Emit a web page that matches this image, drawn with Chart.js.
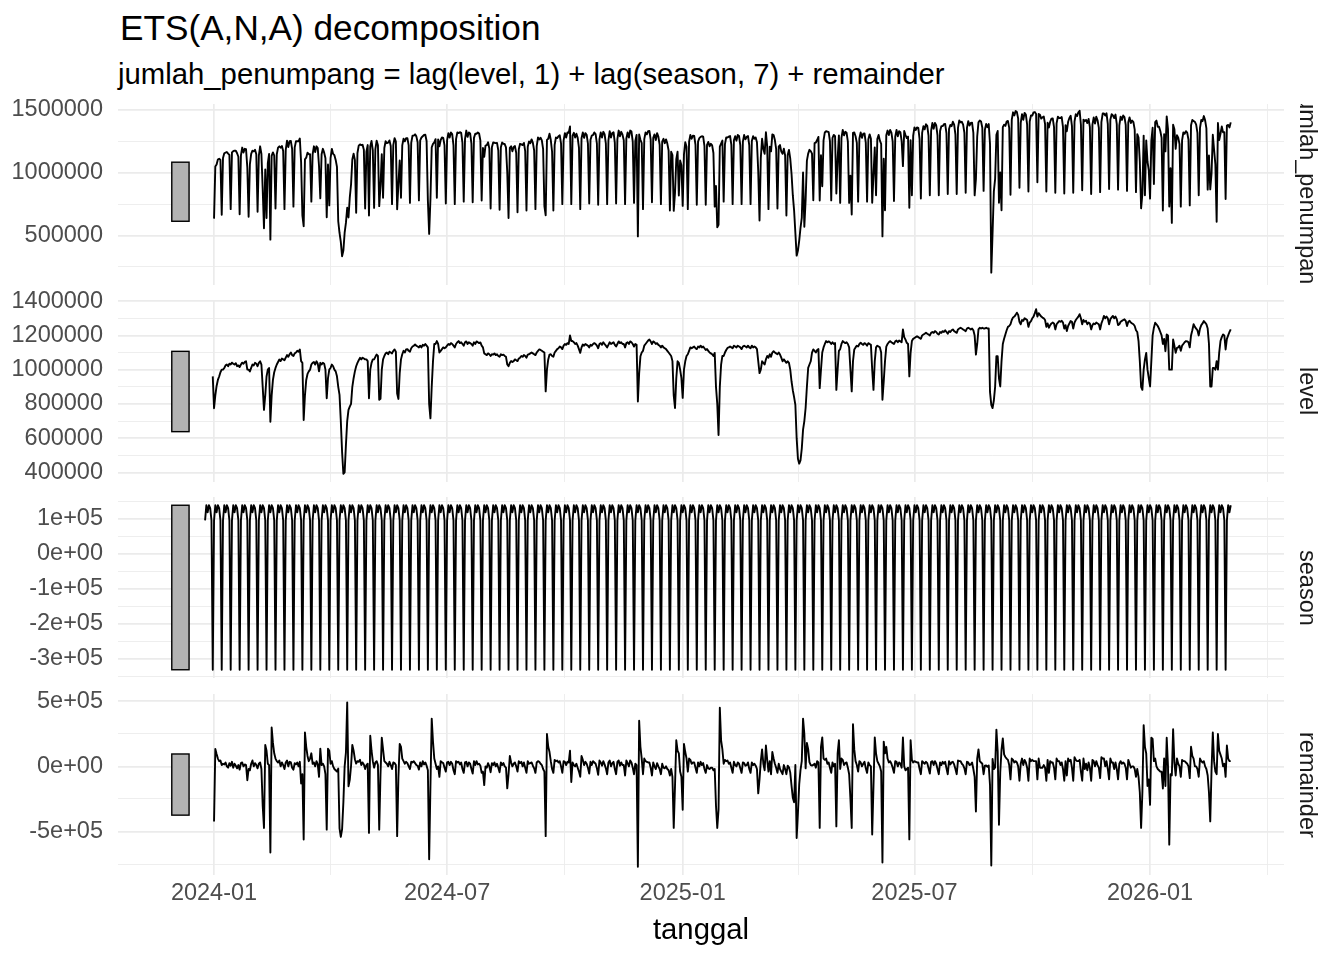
<!DOCTYPE html>
<html lang="id">
<head>
<meta charset="UTF-8">
<title>ETS(A,N,A) decomposition</title>
<script src="https://cdn.jsdelivr.net/npm/chart.js"></script>
<style>
  body { margin: 0; background: #fff; width: 1344px; height: 960px; position: relative; overflow: hidden;
         font-family: "Liberation Sans", Arial, Helvetica, sans-serif; }
  canvas { position: absolute; left: 0; }
  .judul { position: absolute; left: 120px; top: 10px; font-size: 35.2px; line-height: 1; color: #000; white-space: nowrap; }
  .subjudul { position: absolute; left: 118px; top: 58.7px; font-size: 29.3px; line-height: 1; color: #000; white-space: nowrap; }
  .xjudul { position: absolute; left: 551px; width: 300px; top: 914px; text-align: center; font-size: 29.3px; line-height: 1; color: #000; }
  .strip { position: absolute; left: 1290px; width: 34px; height: 181px; display: flex; align-items: center;
           justify-content: center; overflow: hidden; }
  .strip span { writing-mode: vertical-rl; white-space: nowrap; font-size: 23.5px; line-height: 1; color: #1A1A1A; }
</style>
</head>
<body>

<div class="judul">ETS(A,N,A) decomposition</div>
<div class="subjudul">jumlah_penumpang = lag(level, 1) + lag(season, 7) + remainder</div>

<canvas id="p1"></canvas>
<canvas id="p2"></canvas>
<canvas id="p3"></canvas>
<canvas id="p4"></canvas>

<div class="strip" style="top:104px"><span>jumlah_penumpang</span></div>
<div class="strip" style="top:300.5px"><span>level</span></div>
<div class="strip" style="top:497px"><span>season</span></div>
<div class="strip" style="top:694px"><span>remainder</span></div>

<div class="xjudul">tanggal</div>

<script>
  // x = days since 2024-01-01 (a Monday); values in thousands of passengers

  // level, one line per week (Mon..Sun), first value is the initial state on 2023-12-31
  var level = [
    961,
    775, 850, 905, 940, 960, 985, 1000,
    1000, 1010, 1025, 1030, 1020, 1035, 1030,
    1041, 1035, 1030, 1038, 1020, 1025, 1015,
    1030, 1041, 1035, 1045, 1049, 1000, 1000,
    990, 1010, 1030, 1025, 1040, 1035, 1020,
    1040, 1049, 1030, 900, 765, 850, 960,
    1000, 1010, 696, 850, 940, 985, 1010,
    1030, 1045, 1059, 1050, 1065, 1060, 1055,
    1070, 1085, 1075, 1090, 1100, 1085, 1080,
    1095, 1100, 1110, 1105, 1118, 1050, 1040,
    706, 850, 940, 975, 990, 1000, 1030,
    1040, 1045, 1030, 1049, 1035, 990, 1040,
    1030, 1040, 1035, 1000, 833, 950, 1000,
    1010, 1030, 1020, 1000, 990, 961, 900,
    853, 700, 520, 392, 400, 560, 700,
    765, 784, 800, 900, 950, 990, 1020,
    1040, 1055, 1069, 1060, 1070, 1065, 1060,
    1060, 1050, 833, 1000, 1040, 1060, 1060,
    1075, 1088, 1080, 824, 830, 1000, 1060,
    1080, 1095, 1100, 1090, 1105, 1100, 1095,
    1110, 1118, 1105, 860, 829, 980, 1060,
    1090, 1110, 1100, 1118, 1120, 1110, 1105,
    1125, 1135, 1140, 1147, 1140, 1135, 1130,
    1140, 1130, 1145, 1140, 1150, 1140, 1130,
    800, 716, 900, 1050, 1150, 1150, 1167,
    1150, 1100, 1110, 1120, 1130, 1125, 1130,
    1140, 1150, 1145, 1155, 1150, 1140, 1130,
    1150, 1160, 1167, 1155, 1160, 1150, 1140,
    1160, 1165, 1150, 1160, 1155, 1150, 1140,
    1160, 1150, 1165, 1160, 1155, 1159, 1140,
    1130, 1095, 1090, 1085, 1095, 1090, 1080,
    1090, 1088, 1095, 1085, 1090, 1080, 1075,
    1090, 1085, 1088, 1080, 1075, 1030, 1020,
    1040, 1050, 1045, 1050, 1060, 1055, 1050,
    1065, 1070, 1080, 1075, 1085, 1080, 1070,
    1088, 1090, 1095, 1100, 1095, 1090, 1085,
    1100, 1110, 1118, 1115, 1110, 1105, 1100,
    873, 1000, 1060, 1088, 1090, 1080, 1075,
    1100, 1110, 1120, 1125, 1135, 1130, 1120,
    1140, 1150, 1145, 1155, 1150, 1200, 1167,
    1167, 1160, 1150, 1155, 1140, 1120, 1098,
    1130, 1147, 1140, 1150, 1145, 1140, 1130,
    1145, 1140, 1150, 1155, 1150, 1140, 1125,
    1150, 1155, 1145, 1160, 1150, 1140, 1130,
    1145, 1160, 1150, 1155, 1160, 1145, 1135,
    1150, 1165, 1155, 1160, 1150, 1150, 1130,
    1155, 1160, 1150, 1165, 1160, 1150, 1135,
    1150, 1145, 814, 980, 1078, 1100, 1110,
    1140, 1150, 1160, 1170, 1176, 1165, 1150,
    1165, 1160, 1150, 1155, 1145, 1140, 1130,
    1140, 1130, 1125, 1120, 1110, 1100, 1090,
    1080, 1050, 850, 776, 950, 1049, 1040,
    1000, 950, 835, 1000, 1049, 1080, 1090,
    1110, 1130, 1125, 1130, 1135, 1125, 1120,
    1135, 1130, 1140, 1130, 1135, 1125, 1115,
    1120, 1110, 1100, 1095, 1090, 1080, 1098,
    900, 800, 618, 900, 1029, 1080, 1080,
    1100, 1115, 1127, 1130, 1135, 1130, 1125,
    1140, 1135, 1130, 1140, 1135, 1130, 1120,
    1135, 1140, 1135, 1130, 1140, 1130, 1125,
    1140, 1130, 1135, 1130, 1120, 1050, 980,
    1000, 1049, 1040, 1030, 1060, 1080, 1070,
    1090, 1075, 1100, 1108, 1100, 1095, 1090,
    1100, 1088, 1070, 1049, 1060, 1050, 1040,
    1049, 1040, 1000, 931, 880, 840, 794,
    600, 480, 451, 470, 539, 650, 700,
    776, 900, 1010, 1030, 1049, 1100, 1118,
    1110, 1100, 1115, 1120, 892, 1000, 1100,
    1130, 1150, 1167, 1160, 1165, 1160, 1150,
    1160, 1150, 1155, 882, 1000, 1110, 1120,
    1150, 1167, 1160, 1155, 1160, 1150, 1130,
    1000, 873, 1050, 1118, 1130, 1140, 1135,
    1150, 1157, 1150, 1145, 1155, 1150, 1140,
    1155, 1150, 1145, 1000, 882, 1050, 1130,
    1140, 1135, 1130, 1100, 824, 931, 1050,
    1135, 1150, 1160, 1167, 1160, 1155, 1150,
    1165, 1170, 1160, 1170, 1165, 1160, 1235,
    1190, 1175, 1157, 1150, 961, 1100, 1167,
    1180, 1185, 1190, 1195, 1190, 1185, 1180,
    1200, 1205, 1210, 1216, 1210, 1205, 1200,
    1215, 1220, 1215, 1225, 1220, 1210, 1205,
    1220, 1215, 1225, 1220, 1230, 1220, 1210,
    1225, 1220, 1230, 1235, 1225, 1220, 1215,
    1235, 1240, 1245, 1240, 1235, 1230, 1225,
    1240, 1245, 1240, 1235, 1240, 1230, 1200,
    1088, 1150, 1235, 1245, 1240, 1245, 1240,
    1240, 1245, 1240, 1240, 870, 794, 776,
    820, 900, 1078, 1078, 950, 902, 1050,
    1150, 1180, 1206, 1230, 1250, 1255, 1265,
    1290, 1305, 1310, 1320, 1333, 1320, 1280,
    1265, 1290, 1285, 1300, 1295, 1290, 1250,
    1275, 1284, 1300, 1310, 1330, 1353, 1310,
    1330, 1320, 1310, 1304, 1300, 1290, 1250,
    1270, 1245, 1260, 1270, 1275, 1270, 1235,
    1265, 1275, 1284, 1280, 1285, 1275, 1240,
    1260, 1225, 1255, 1270, 1284, 1280, 1240,
    1275, 1290, 1300, 1310, 1324, 1300, 1265,
    1290, 1280, 1285, 1265, 1275, 1270, 1235,
    1260, 1270, 1265, 1275, 1270, 1265, 1235,
    1270, 1290, 1314, 1300, 1310, 1300, 1265,
    1295, 1305, 1314, 1300, 1310, 1295, 1260,
    1265, 1280, 1285, 1290, 1294, 1285, 1255,
    1280, 1285, 1275, 1270, 1265, 1255, 1230,
    1220, 1167, 1050, 900, 882, 1000, 1060,
    1098, 1000, 950, 902, 1050, 1200, 1245,
    1274, 1265, 1255, 1240, 1220, 1200, 1150,
    1180, 1108, 1206, 1200, 1000, 1000, 1000,
    1176, 1140, 1098, 1127, 1130, 1140, 1110,
    1140, 1150, 1160, 1167, 1165, 1160, 1130,
    1200, 1230, 1265, 1250, 1240, 1230, 1200,
    1240, 1260, 1270, 1284, 1275, 1265, 1240,
    1150, 902, 902, 1010, 1010, 1000, 1050,
    1000, 1100, 1167, 1190, 1206, 1200, 1118,
    1180, 1200, 1220, 1235
  ];

  // weekly seasonal states Mon..Sun, repeated from 2023-12-25
  var seasonWeek = [95, 138, 118, 138, 130, 95, -331];

  // remainder from 2024-01-01, one line per week (Mon..Sun)
  var remainder = [
    -422, 134, 95, 60, 40, 45, 10,
    20, 15, 30, 0, -10, 25, 5,
    35, -10, 20, 5, -15, 10, -25,
    25, 30, 0, 15, 10, -106, -20,
    -30, 20, 45, 0, 25, 10, -15,
    20, 30, -20, -300, -472, 164, 120,
    20, 10, -661, 298, 180, 100, 60,
    40, 30, 45, 0, 30, 10, -20,
    30, 45, 0, 35, 30, -10, -25,
    25, 15, 30, 0, 35, -131, -60,
    -561, 260, 150, 80, 40, 60, 100,
    20, 30, 0, 40, 15, -80, 136,
    10, 20, 0, -60, -485, 136, 120,
    20, 40, 0, -20, -30, -40, -17,
    -475, -541, -483, -278, 0, 105, 491,
    -152, -103, 3, 165, 120, 55, 21,
    40, 35, 50, 10, 30, 15, -20,
    10, 20, -510, 235, 120, 40, -10,
    30, 40, 10, -485, -60, 220, 130,
    40, 30, 20, 0, 35, 10, -20,
    30, 25, 10, -535, -80, 172, 150,
    60, 40, 20, 35, 25, 0, -20,
    35, 30, 40, 25, 10, 5, -25,
    30, 0, 40, 15, 30, 5, -30,
    -712, -150, 366, 190, 60, 20, -20,
    0, -80, 40, 30, 25, -10, -40,
    30, 35, 10, 35, 20, -30, -60,
    40, 30, 35, 15, 30, -20, -50,
    30, 35, 0, 30, 20, -20, -55,
    40, 10, 40, 15, 20, 5, -50,
    -40, -144, 0, -10, 25, 0, -45,
    25, 10, 30, 0, 20, -10, -45,
    30, 10, 25, 0, -10, -169, -60,
    80, 30, 0, 20, 30, 0, -40,
    40, 25, 35, 0, 30, -10, -50,
    40, 20, 25, 30, 5, -15, -50,
    30, 40, 35, 20, 10, -20, -40,
    -535, 248, 150, 110, 40, -20, -50,
    50, 40, 45, 30, 40, 0, -50,
    40, 35, 10, 35, 30, 120, -120,
    30, 10, 0, 20, -10, -40, -80,
    80, 50, 10, 35, 20, -10, -55,
    35, 10, 40, 30, 20, -15, -65,
    45, 30, 5, 40, 15, -15, -60,
    30, 45, 0, 25, 35, -20, -60,
    35, 45, 5, 30, 10, 10, -70,
    45, 25, 0, 45, 30, -10, -60,
    20, 10, -770, 350, 150, 60, -60,
    60, 40, 35, 30, 30, -10, -70,
    30, 0, -20, 25, 0, -20, -60,
    20, -10, -15, 0, -20, -30, -70,
    -20, -80, -472, -150, 200, 120, 100,
    -40, -80, -333, 172, 110, 60, -40,
    60, 50, 20, 30, 30, -10, -50,
    30, 0, 35, 10, 25, -20, -50,
    10, -15, -20, -10, -10, -30, -20,
    -300, -472, -333, 449, 200, 130, 20,
    50, 40, 45, 20, 30, -10, -50,
    35, 10, 0, 30, 20, -15, -50,
    30, 25, 5, 10, 30, -20, -50,
    30, 10, 20, 5, -20, -207, -100,
    40, 130, 20, -30, 160, 50, -40,
    40, -60, 110, 60, 20, -10, -50,
    20, -20, -40, -60, 10, -20, -60,
    5, -7, -48, -148, -241, -275, 11,
    -549, -358, -138, -29, 40, 366, 250,
    -15, 180, 132, 32, 10, 6, 11,
    20, -10, 40, 30, -472, 150, 222,
    60, 50, 60, 20, 30, -10, -50,
    30, 0, 20, -460, 100, 200, -20,
    60, 50, 10, 25, 30, -10, -60,
    -250, -472, 323, 130, 40, 10, -40,
    40, 30, 0, 20, 35, -15, -50,
    30, 10, 0, -523, -150, 222, 100,
    40, 20, 0, -40, -737, 190, 100,
    150, 60, 30, 40, 20, -10, -50,
    40, 35, 0, 30, 20, -10, 222,
    0, -30, -20, -10, -560, 200, 50,
    30, 40, 35, 30, 30, -20, -60,
    40, 30, 20, 35, 25, -15, -55,
    35, 40, 10, 40, 20, -20, -60,
    30, 10, 35, 20, 35, -15, -60,
    40, 15, 30, 35, 15, -20, -60,
    45, 40, 40, 20, 10, -15, -60,
    35, 30, 10, 15, 30, -20, -80,
    -346, 60, 130, 40, 30, 20, -60,
    5, 7, -3, 7, -144, -760, 57,
    -21, -8, 282, 114, -448, -45, 129,
    215, 92, 72, 60, 50, 10, -100,
    60, 50, 30, 40, 30, 0, -110,
    20, 60, 10, 50, 30, -10, -110,
    60, 40, 50, 40, 40, 40, -100,
    60, -10, -10, -10, 10, -10, -110,
    50, -50, 40, 30, 30, -10, -100,
    60, 40, 40, 10, 30, -20, -110,
    40, -70, 60, 40, 50, -10, -110,
    70, 50, 40, 40, 50, -40, -110,
    60, -20, 20, -30, 30, -10, -110,
    50, 40, 0, 40, 10, -10, -90,
    70, 60, 60, 0, 40, -20, -100,
    60, 30, 30, -20, 30, -20, -100,
    20, 40, 20, 30, 20, -10, -100,
    50, 20, -10, 0, 0, -20, -80,
    -20, -80, -200, -472, -200, 316, 150,
    100, -150, -100, -295, 220, 210, 40,
    60, 0, -20, -30, -40, -40, -170,
    60, -150, 220, 0, -600, -60, -69,
    285, 30, -70, 60, 20, 0, -80,
    50, 40, 40, 30, 20, 0, -90,
    150, 80, 60, 0, 0, -20, -80,
    60, 40, 30, 40, 0, -20, -70,
    -200, -422, -30, 260, 40, -40, -60,
    248, 120, 90, 60, 0, 20, -80,
    160, 60, 40, 40
  ];

  // x axis breaks
  var xMajor = [0, 182, 366, 547, 731];
  var xMajorLabels = ["2024-01", "2024-07", "2025-01", "2025-07", "2026-01"];
  var xMinor = [91, 274, 456.5, 639, 823];
  var xMin = -75, xMax = 835.6;

  // y axis breaks per panel
  var y1Major = [500000, 1000000, 1500000];
  var y1Labels = ["500000", "1000000", "1500000"];
  var y1Minor = [250000, 750000, 1250000];

  var y2Major = [400000, 600000, 800000, 1000000, 1200000, 1400000];
  var y2Labels = ["400000", "600000", "800000", "1000000", "1200000", "1400000"];
  var y2Minor = [500000, 700000, 900000, 1100000, 1300000];

  var y3Major = [-300000, -200000, -100000, 0, 100000];
  var y3Labels = ["-3e+05", "-2e+05", "-1e+05", "0e+00", "1e+05"];
  var y3Minor = [-350000, -250000, -150000, -50000, 50000, 150000];

  var y4Major = [-500000, 0, 500000];
  var y4Labels = ["-5e+05", "0e+00", "5e+05"];
  var y4Minor = [-750000, -250000, 250000];

  // position of the grey scale bars on the time axis (days)
  var barDays = [-33, -19.5];

  // build the four series
  var levelPts = [], seasonPts = [], remPts = [], obsPts = [];
  for (var i = 0; i < level.length; i++) {
    levelPts.push({ x: i - 1, y: level[i] * 1000 });
  }
  for (var d = -7; d < remainder.length; d++) {
    seasonPts.push({ x: d, y: seasonWeek[(d + 7) % 7] * 1000 });
  }
  for (var d = 0; d < remainder.length; d++) {
    remPts.push({ x: d, y: remainder[d] * 1000 });
    // jumlah_penumpang = lag(level, 1) + lag(season, 7) + remainder
    obsPts.push({ x: d, y: (level[d] + seasonWeek[d % 7] + remainder[d]) * 1000 });
  }

  function rangeOf(pts) {
    var lo = Infinity, hi = -Infinity;
    for (var i = 0; i < pts.length; i++) {
      if (pts[i].y < lo) lo = pts[i].y;
      if (pts[i].y > hi) hi = pts[i].y;
    }
    return [lo, hi];
  }
  var seasonRange = rangeOf(seasonPts);
  var halfBar = (seasonRange[1] - seasonRange[0]) / 2;

  var rangeBarPlugin = {
    id: "rangeBar",
    beforeDatasetsDraw: function (chart, args, opts) {
      var xs = chart.scales.x, ys = chart.scales.y, ctx = chart.ctx;
      var x0 = xs.getPixelForValue(barDays[0]);
      var x1 = xs.getPixelForValue(barDays[1]);
      var y0 = ys.getPixelForValue(opts.mid + halfBar);
      var y1 = ys.getPixelForValue(opts.mid - halfBar);
      ctx.save();
      ctx.fillStyle = "#B3B3B3";
      ctx.strokeStyle = "#000";
      ctx.lineWidth = 1.4;
      ctx.fillRect(x0, y0, x1 - x0, y1 - y0);
      ctx.strokeRect(x0, y0, x1 - x0, y1 - y0);
      ctx.restore();
    }
  };

  Chart.defaults.font.family = '"Liberation Sans", Arial, Helvetica, sans-serif';

  function noPadding(s) {
    s.paddingTop = 0;
    s.paddingBottom = 0;
    s.paddingLeft = 0;
    s.paddingRight = 0;
  }

  function makePanel(id, top, pts, yMin, yMax, yMajor, yLabels, yMinor, showX) {
    var canvas = document.getElementById(id);
    var panelH = 181;
    canvas.width = 1344;
    canvas.height = showX ? panelH + 16 + 40 + 4 : panelH + 32;
    canvas.style.top = (top - 16) + "px";
    var r = rangeOf(pts);

    return new Chart(canvas, {
      type: "line",
      data: {
        datasets: [{
          data: pts,
          borderColor: "#000",
          borderWidth: 1.9,
          borderJoinStyle: "round",
          pointRadius: 0,
          tension: 0,
          fill: false
        }]
      },
      options: {
        responsive: false,
        animation: false,
        devicePixelRatio: 1,
        events: [],
        layout: { padding: { top: 16, bottom: showX ? 4 : 16, left: 0, right: 60 } },
        plugins: {
          legend: { display: false },
          tooltip: { enabled: false },
          rangeBar: { mid: (r[0] + r[1]) / 2 }
        },
        scales: {
          x: {
            type: "linear",
            min: xMin,
            max: xMax,
            border: { display: false },
            grid: {
              color: "#EBEBEB",
              drawTicks: false,
              lineWidth: function (c) { return xMajor.indexOf(c.tick.value) >= 0 ? 1.7 : 0.85; }
            },
            ticks: {
              display: showX,
              autoSkip: false,
              maxRotation: 0,
              padding: 4,
              color: "#4D4D4D",
              font: { size: 23.5 },
              callback: function (v) {
                var k = xMajor.indexOf(v);
                return k >= 0 ? xMajorLabels[k] : "";
              }
            },
            afterBuildTicks: function (s) {
              s.ticks = xMajor.concat(xMinor).map(function (v) { return { value: v }; });
            },
            afterFit: function (s) {
              s.height = showX ? 40 : 0;
              noPadding(s);
            }
          },
          y: {
            min: yMin,
            max: yMax,
            border: { display: false },
            grid: {
              color: "#EBEBEB",
              drawTicks: false,
              lineWidth: function (c) { return yMajor.indexOf(c.tick.value) >= 0 ? 1.7 : 0.85; }
            },
            ticks: {
              autoSkip: false,
              padding: 15,
              color: "#4D4D4D",
              font: { size: 23.5 },
              callback: function (v) {
                var k = yMajor.indexOf(v);
                return k >= 0 ? yLabels[k] : "";
              }
            },
            afterBuildTicks: function (s) {
              s.ticks = yMajor.concat(yMinor).map(function (v) { return { value: v }; });
            },
            afterFit: function (s) {
              s.width = 118;
              noPadding(s);
            }
          }
        }
      },
      plugins: [rangeBarPlugin]
    });
  }

  makePanel("p1", 104, obsPts, 107000, 1544000, y1Major, y1Labels, y1Minor, false);
  makePanel("p2", 300.5, levelPts, 344000, 1401000, y2Major, y2Labels, y2Minor, false);
  makePanel("p3", 497, seasonPts, -354500, 161500, y3Major, y3Labels, y3Minor, false);
  makePanel("p4", 694, remPts, -833000, 555000, y4Major, y4Labels, y4Minor, true);
</script>
</body>
</html>
